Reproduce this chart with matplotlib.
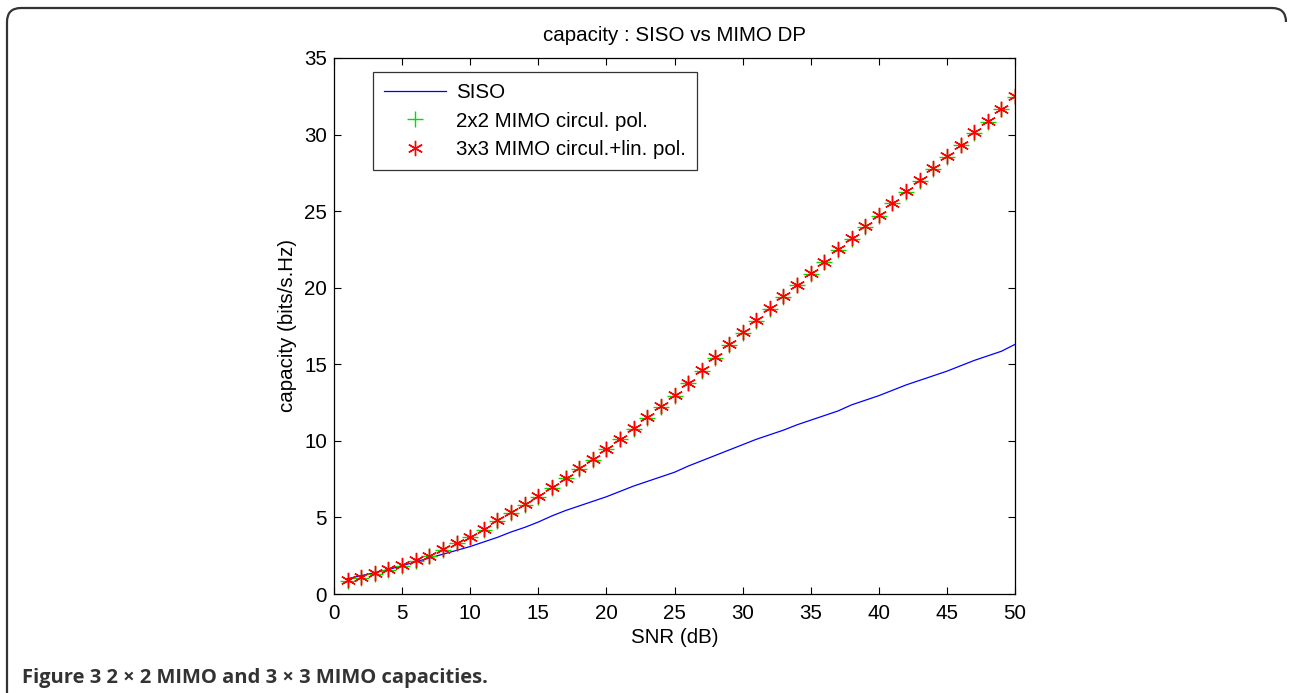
import matplotlib
matplotlib.use('Agg')
import matplotlib.pyplot as plt
from matplotlib.path import Path
from matplotlib.patches import PathPatch
import numpy as np

plt.rcParams['font.family'] = ['Liberation Sans', 'DejaVu Sans']

# SNR points (dB)
snr = list(range(1, 51))

# SISO capacity (bits/s.Hz)
siso = [1.0, 1.2, 1.4, 1.6, 1.85, 2.1, 2.35, 2.6, 2.85, 3.1,
        3.4, 3.7, 4.05, 4.35, 4.7, 5.1, 5.45, 5.75, 6.05, 6.35,
        6.7, 7.05, 7.35, 7.65, 7.95, 8.35, 8.7, 9.05, 9.4, 9.75,
        10.1, 10.4, 10.7, 11.05, 11.35, 11.65, 11.95, 12.35, 12.65, 12.95,
        13.3, 13.65, 13.95, 14.25, 14.55, 14.9, 15.25, 15.55, 15.85, 16.3]

# 3x3 MIMO circular + linear polarisation
mimo3 = [0.9, 1.1, 1.35, 1.6, 1.9, 2.2, 2.5, 2.95, 3.35, 3.75,
         4.25, 4.8, 5.35, 5.85, 6.4, 7.0, 7.6, 8.2, 8.8, 9.5,
         10.15, 10.85, 11.55, 12.25, 13.0, 13.8, 14.6, 15.45, 16.3, 17.1,
         17.9, 18.65, 19.45, 20.2, 20.95, 21.7, 22.5, 23.25, 24.0, 24.75,
         25.55, 26.3, 27.05, 27.8, 28.6, 29.35, 30.15, 30.9, 31.7, 32.5]

# 2x2 MIMO circular polarisation (almost on top of the 3x3 curve)
mimo2 = [0.85, 1.05, 1.3, 1.55, 1.85, 2.15, 2.45, 2.9, 3.3, 3.7,
         4.2, 4.75, 5.3, 5.8, 6.35, 6.95, 7.55, 8.15, 8.75, 9.45,
         10.1, 10.8, 11.5, 12.2, 12.95, 13.75, 14.55, 15.4, 16.25, 17.05,
         17.85, 18.6, 19.4, 20.15, 20.9, 21.65, 22.45, 23.2, 23.95, 24.7,
         25.5, 26.25, 27.0, 27.75, 28.55, 29.3, 30.1, 30.85, 31.65, 32.45]

W, H = 1290, 693
FS = 14.8
fig = plt.figure(figsize=(W / 100, H / 100), dpi=100)

# rounded frame around the figure (open at the bottom)
r = 14
verts = [(7, H), (7, 8 + r), (7, 8), (7 + r, 8), (W - 4 - r, 8), (W - 4, 8), (W - 4, 8 + r)]
codes = [Path.MOVETO, Path.LINETO, Path.CURVE3, Path.CURVE3, Path.LINETO, Path.CURVE3, Path.CURVE3]
verts = [(x / W, 1 - y / H) for x, y in verts]
fig.patches.append(PathPatch(Path(verts, codes), transform=fig.transFigure,
                             fill=False, lw=1.6, ec='#333333'))

ax = fig.add_axes([334 / W, 1 - 594 / H, (1015 - 334) / W, (594 - 58) / H])
ax.plot(snr, siso, color='blue', lw=0.9, label='SISO')
ax.plot(snr, mimo2, ls='none', marker='+', ms=11, mew=1.0, color='#00dd00',
        label='2x2 MIMO circul. pol.')
ax.plot(snr, mimo3, ls='none', marker=(6, 2, 0), ms=11, mew=1.0, color='red',
        label='3x3 MIMO circul.+lin. pol.')

ax.set_xlim(0, 50)
ax.set_ylim(0, 35)
ax.set_xticks(np.arange(0, 51, 5))
ax.set_yticks(np.arange(0, 36, 5))
ax.tick_params(direction='in', top=True, right=True, labelsize=FS, length=5, width=0.8)
ax.tick_params(axis='x', pad=7)
ax.tick_params(axis='y', pad=5)
for s in ax.spines.values():
    s.set_linewidth(0.9)
ax.set_title('capacity : SISO vs MIMO DP', fontsize=FS, pad=12)
ax.set_xlabel('SNR (dB)', fontsize=FS, labelpad=4)
ax.set_ylabel('capacity (bits/s.Hz)', fontsize=FS, labelpad=5)

leg = ax.legend(loc='upper left', bbox_to_anchor=(39 / 681, 1 - 14 / 536), fontsize=FS,
                frameon=True, fancybox=False, edgecolor='black', handlelength=3.0,
                handletextpad=0.5, borderaxespad=0, borderpad=0.55, labelspacing=0.45)
leg.get_frame().set_linewidth(0.9)

fig.text(22 / W, 1 - 683 / H, 'Figure 3 2 \u00d7 2 MIMO and 3 \u00d7 3 MIMO capacities.',
         fontsize=14.5, fontweight='bold', family=['Open Sans', 'DejaVu Sans'], color='#333333')

fig.savefig('out.png', dpi=100)
